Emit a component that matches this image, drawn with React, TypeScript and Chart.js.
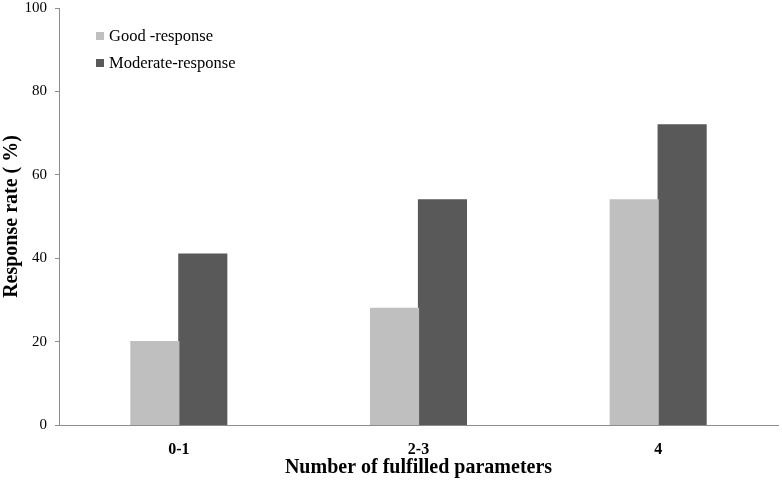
import React, { useEffect, useRef } from "react";
import { Chart, registerables } from "chart.js";

Chart.register(...registerables);

const categories = ["0-1", "2-3", "4"];
const goodResponse = [20, 28, 54];
const moderateResponse = [41, 54, 72];
const seriesLabels = ["Good -response", "Moderate-response"];
const yTicks = [0, 20, 40, 60, 80, 100];

const FONT = "'Liberation Serif', 'Times New Roman', serif";

const insideLegend = {
  id: "insideLegend",
  afterDraw(chart: any) {
    const { ctx, chartArea } = chart;
    ctx.save();
    ctx.font = `16.5px ${FONT}`;
    ctx.textBaseline = "middle";
    ctx.textAlign = "left";
    chart.data.datasets.forEach((ds: any, i: number) => {
      const bx = Math.round(chartArea.left + 37);
      const by = Math.round(chartArea.top + 24 + i * 27);
      ctx.fillStyle = ds.backgroundColor;
      ctx.fillRect(bx, by, 8, 8);
      ctx.fillStyle = "#000";
      ctx.fillText(ds.label, bx + 13, by + 4.5);
    });
    ctx.restore();
  },
};

export default function App() {
  const ref = useRef<HTMLCanvasElement>(null);
  useEffect(() => {
    document.body.style.margin = "0";
    const chart = new Chart(ref.current!, {
      type: "bar",
      data: {
        labels: categories,
        datasets: [
          {
            label: seriesLabels[0],
            data: goodResponse,
            backgroundColor: "#bfbfbf",
            categoryPercentage: 0.4,
            barPercentage: 1.0,
            inflateAmount: 0.6,
          },
          {
            label: seriesLabels[1],
            data: moderateResponse,
            backgroundColor: "#595959",
            categoryPercentage: 0.4,
            barPercentage: 1.0,
            inflateAmount: 0.6,
          },
        ],
      },
      options: {
        animation: false,
        responsive: false,
        maintainAspectRatio: false,
        layout: { padding: { top: 0, right: 4, left: 0, bottom: 0 } },
        plugins: {
          legend: { display: false },
          tooltip: { enabled: false },
        },
        scales: {
          x: {
            grid: { display: true, drawOnChartArea: false, drawTicks: false },
            border: { display: true, color: "#8c8c8c", width: 1 },
            ticks: {
              color: "#000",
              padding: 15,
              font: { family: FONT, size: 16, weight: "bold" },
            },
            title: {
              display: true,
              text: "Number of fulfilled parameters",
              color: "#000",
              font: { family: FONT, size: 20, weight: "bold" },
              padding: { top: 4, bottom: 4 },
            },
            afterFit(scale: any) {
              scale.height = 59;
              scale.paddingTop = 0;
            },
          },
          y: {
            min: 0,
            max: 100,
            afterBuildTicks(scale: any) {
              scale.ticks = yTicks.map((v) => ({ value: v }));
            },
            grid: {
              display: true,
              drawOnChartArea: false,
              drawTicks: true,
              tickLength: 4,
              tickColor: "#8c8c8c",
            },
            border: { display: true, color: "#8c8c8c", width: 1 },
            ticks: {
              color: "#000",
              padding: 8,
              font: { family: FONT, size: 15 },
            },
            title: {
              display: true,
              text: "Response rate ( %)",
              color: "#000",
              font: { family: FONT, size: 20, weight: "bold" },
              padding: { top: 0, bottom: 0 },
            },
            afterFit(scale: any) {
              scale.width = 59;
              scale.paddingTop = 8;
            },
          },
        },
      },
      plugins: [insideLegend],
    });
    return () => chart.destroy();
  }, []);
  return (
    <div style={{ width: 782, height: 484 }}>
      <canvas ref={ref} width={782} height={484} style={{ display: "block", width: 782, height: 484 }} />
    </div>
  );
}
